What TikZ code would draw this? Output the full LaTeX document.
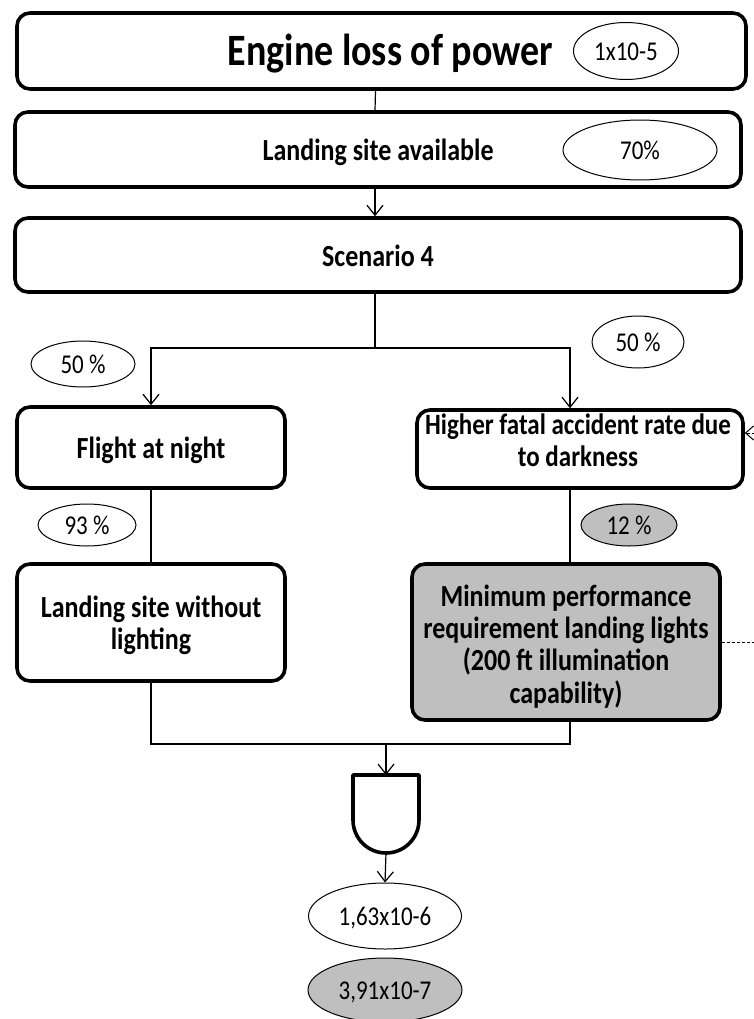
\documentclass[tikz,border=0pt]{standalone}
\usepackage{fontspec}
\usepackage{graphicx}
\setmainfont{Carlito}
\usetikzlibrary{arrows.meta,shapes.geometric}
\definecolor{shade}{HTML}{BFBFBF}
% text set a little taller than wide, one or more centred lines,
% moved vertically by the optional amount without changing its box
\newcommand\talltext[2][-5pt]{\raisebox{#1}[\height][\depth]{%
  \scalebox{1}[1.18]{\begin{tabular}{@{}c@{}}#2\end{tabular}}}}
\tikzset{
  box/.style={draw, line width=3.6pt, rounded corners=13pt, fill=white,
    inner sep=0pt, font=\bfseries\fontsize{26}{27}\selectfont},
  prob/.style={draw, ellipse, line width=1pt, inner sep=0pt,
    font=\fontsize{23}{24}\selectfont},
  link/.style={line width=1.2pt},
  arr/.style={link, -{Straight Barb[length=10pt,width=16pt,line width=1.2pt]}},
  dep/.style={line width=1pt, dash pattern=on 3pt off 2pt}
}
\begin{document}
\begin{tikzpicture}[x=1pt,y=-1pt]
\clip (0,0) rectangle (754,1019);
\fill[white] (0,0) rectangle (754,1019);

% top chain
\node[box, minimum width=729, minimum height=76,
  font=\bfseries\fontsize{38}{40}\selectfont] (elp) at (381.5,51)
  {\hspace*{18pt}\talltext{Engine loss of power}};
\node[prob, minimum width=105, minimum height=57] (p1) at (626,51) {\talltext[-3.5pt]{1x10-5}};
\node[box, minimum width=726, minimum height=75] (lsa) at (378,149.5)
  {\talltext{Landing site available}};
\node[prob, minimum width=154, minimum height=60] (p2) at (640,150) {\talltext[-3.5pt]{70\%}};
\node[box, minimum width=726, minimum height=74] (s4) at (378,255) {\talltext{Scenario 4}};

% branches
\node[box, minimum width=268, minimum height=81] (fan) at (151,447.5)
  {\talltext{Flight at night}};
\node[box, minimum width=326, minimum height=78,
  font=\bfseries\fontsize{25}{27}\selectfont] (hf) at (580,449)
  {\hspace*{-4pt}\talltext[5pt]{Higher fatal accident rate due\\to darkness}};
\node[box, minimum width=268, minimum height=117] (lsw) at (151,622.5)
  {\talltext{Landing site without\\lighting}};
\node[box, fill=shade, minimum width=308, minimum height=156] (mpr) at (566,642)
  {\talltext[-6.5pt]{Minimum performance\\requirement landing lights\\(200 ft illumination\\capability)}};

\node[prob, minimum width=104, minimum height=46] (p50l) at (83,364) {\talltext[-3.5pt]{50 \%}};
\node[prob, minimum width=92, minimum height=52] (p50r) at (638,342) {\talltext[-3.5pt]{50 \%}};
\node[prob, minimum width=98, minimum height=42] (p93) at (87,525) {\talltext[-3.5pt]{93 \%}};
\node[prob, fill=shade, minimum width=96, minimum height=42] (p12) at (629,525) {\talltext[-3.5pt]{12 \%}};

% results
\node[prob, minimum width=153, minimum height=66] (r1) at (385,916) {\talltext[-3.5pt]{1,63x10-6}};
\node[prob, fill=shade, minimum width=154, minimum height=64] (r2) at (385,990) {\talltext[-3.5pt]{3,91x10-7}};

% connectors of the chain
\draw[link] ([xshift=-6pt]elp.south) -- ([xshift=-3pt]lsa.north);
\draw[arr] ([xshift=-3pt]lsa.south) -- ([xshift=-3pt]s4.north);
\coordinate (split) at (375,348);
\draw[link] ([xshift=-3pt]s4.south) -- (split);
\draw[arr] (split) -| (fan.north);
\draw[arr] (split) -| ([xshift=-10pt]hf.north);
\draw[link] (fan.south) -- (lsw.north);
\draw[link] ([xshift=-10pt]hf.south) -- ([xshift=4pt]mpr.north);

% AND gate
\coordinate (gtop) at (386,775);
\coordinate (gbot) at (386,853);
\draw[line width=3.6pt, line join=round, fill=white]
  (353,775) -- (353,820) arc[start angle=180, end angle=360, radius=33pt]
  -- (419,775) -- cycle;
\coordinate (join) at (386,744);
\draw[link] (lsw.south) |- (join);
\draw[link] ([xshift=4pt]mpr.south) |- (join);
\draw[arr] (join) -- (gtop);
\draw[arr] (gbot) -- (r1.north);

% dependency leaving the picture on the right
\coordinate (outA) at (775,642);
\coordinate (outB) at (775,433);
\draw[dep] (mpr.east) -- (outA) -- (outB);
\draw[dep, -{Straight Barb[length=8pt,width=14pt,line width=1pt]}]
  (outB) -- ([yshift=16pt]hf.east);
\end{tikzpicture}
\end{document}
